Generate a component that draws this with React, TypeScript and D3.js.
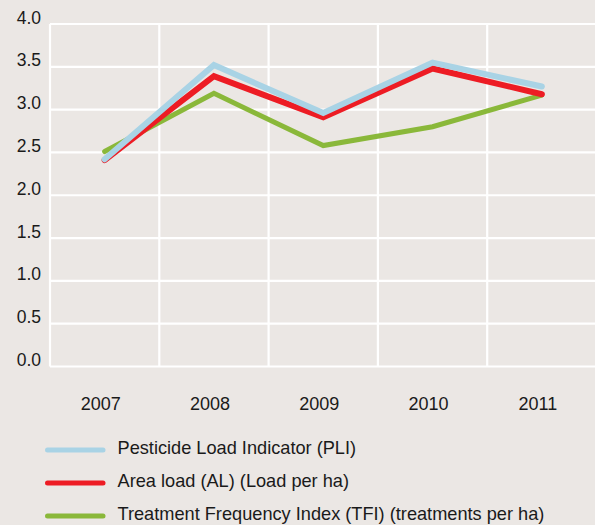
import { useEffect, useRef } from "react";
import * as d3 from "d3";

const years = ["2007", "2008", "2009", "2010", "2011"];
const yTicks = [0, 0.5, 1, 1.5, 2, 2.5, 3, 3.5, 4];

const pli = [2.42, 3.52, 2.96, 3.55, 3.27];
const al = [2.41, 3.39, 2.91, 3.48, 3.18];
const tfi = [2.51, 3.19, 2.58, 2.8, 3.17];

const seriesNames = [
  "Pesticide Load Indicator (PLI)",
  "Area load (AL) (Load per ha)",
  "Treatment Frequency Index (TFI) (treatments per ha)",
];
const seriesColors = ["#a9d3e5", "#ed1c24", "#8ab83a"];

export default function App() {
  const svgRef = useRef<SVGSVGElement | null>(null);

  useEffect(() => {
    const width = 595;
    const height = 525;
    const svg = d3.select(svgRef.current);
    svg.selectAll("*").remove();

    svg.append("rect")
      .attr("width", width)
      .attr("height", height)
      .attr("fill", "#ebe7e4");

    const left = 50;
    const right = 596.5;
    const top = 24;
    const bottom = 366.5;

    const x = d3.scaleBand<string>().domain(years).range([left, right]).padding(0);
    const y = d3.scaleLinear().domain([0, 4]).range([bottom, top]);
    const font = "'Liberation Sans', Arial, Helvetica, sans-serif";

    // grid
    svg.append("g")
      .selectAll("line")
      .data(yTicks)
      .join("line")
      .attr("x1", left)
      .attr("x2", width + 5)
      .attr("y1", d => y(d))
      .attr("y2", d => y(d))
      .attr("stroke", "#ffffff")
      .attr("stroke-width", 2.2);

    svg.append("g")
      .selectAll("line")
      .data(years)
      .join("line")
      .attr("x1", d => x(d)!)
      .attr("x2", d => x(d)!)
      .attr("y1", top)
      .attr("y2", bottom)
      .attr("stroke", "#ffffff")
      .attr("stroke-width", 2.2);

    // y labels
    svg.append("g")
      .selectAll("text")
      .data(yTicks)
      .join("text")
      .attr("x", 41)
      .attr("y", d => y(d) - 0.5)
      .attr("text-anchor", "end")
      .attr("font-family", font)
      .attr("font-size", 17.5)
      .attr("fill", "#1a1a1a")
      .text(d => d.toFixed(1));

    // x labels
    svg.append("g")
      .selectAll("text")
      .data(years)
      .join("text")
      .attr("x", d => x(d)! + x.bandwidth() / 2 - 4)
      .attr("y", bottom + 43)
      .attr("text-anchor", "middle")
      .attr("font-family", font)
      .attr("font-size", 18)
      .attr("fill", "#1a1a1a")
      .text(d => d);

    const line = d3.line<number>()
      .x((_, i) => x(years[i])! + x.bandwidth() / 2)
      .y(d => y(d));

    const drawOrder = [
      { values: tfi, color: seriesColors[2], w: 5 },
      { values: al, color: seriesColors[1], w: 6 },
      { values: pli, color: seriesColors[0], w: 6 },
    ];
    drawOrder.forEach(s => {
      svg.append("path")
        .datum(s.values)
        .attr("d", line)
        .attr("fill", "none")
        .attr("stroke", s.color)
        .attr("stroke-width", s.w)
        .attr("stroke-linejoin", "miter")
        .attr("stroke-linecap", "round");
    });

    // legend
    const legendY = d3.scalePoint<string>().domain(seriesNames).range([450, 516]);
    const lg = svg.append("g");
    seriesNames.forEach((name, i) => {
      const ly = legendY(name)!;
      lg.append("line")
        .attr("x1", 47.5)
        .attr("x2", 103)
        .attr("y1", ly)
        .attr("y2", ly)
        .attr("stroke", seriesColors[i])
        .attr("stroke-width", 5)
        .attr("stroke-linecap", "round");
      lg.append("text")
        .attr("x", 117.5)
        .attr("y", ly + 3.5)
        .attr("font-family", font)
        .attr("font-size", 18.2)
        .attr("fill", "#1a1a1a")
        .text(name);
    });
  }, []);

  return (
    <svg
      ref={svgRef}
      width={595}
      height={525}
      style={{ position: "absolute", left: 0, top: 0, display: "block" }}
    />
  );
}
